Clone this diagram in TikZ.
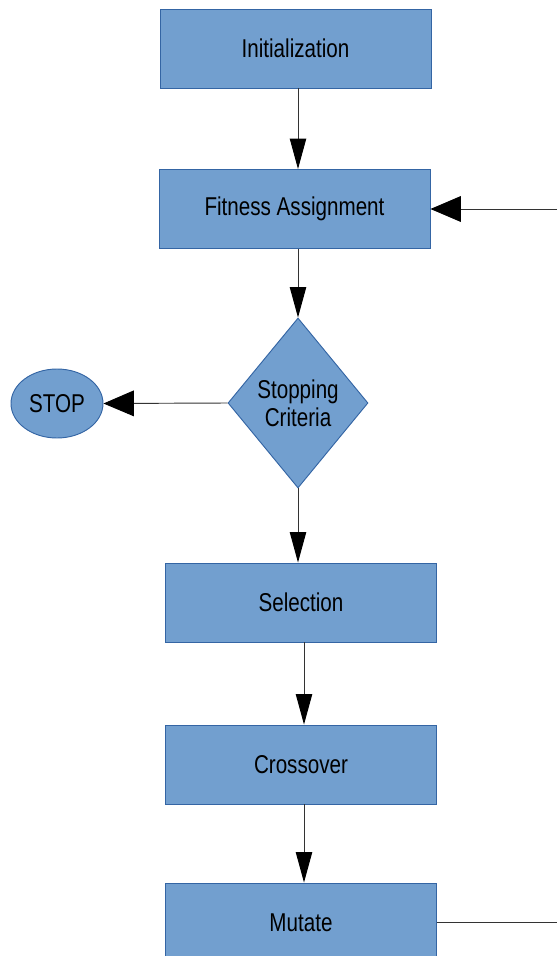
\documentclass[tikz,border=0pt]{standalone}
\usepackage{fontspec}
\setmainfont{Liberation Sans}[FakeStretch=0.8]
\usetikzlibrary{shapes.geometric,arrows.meta}
\definecolor{boxfill}{HTML}{729FCF}
\definecolor{boxline}{HTML}{3465A4}
\tikzset{
 stepbox/.style={rectangle,draw=boxline,fill=boxfill,line width=0.8pt,
   minimum width=271*0.03cm,minimum height=79*0.03cm,inner sep=0pt,
   font=\fontsize{22}{26}\selectfont},
 testbox/.style={diamond,draw=boxline,fill=boxfill,line width=0.8pt,
   minimum width=140*0.03cm,minimum height=170*0.03cm,inner sep=0pt,
   align=center,font=\fontsize{22}{24}\selectfont},
 endbox/.style={ellipse,draw=boxline,fill=boxfill,line width=0.8pt,
   minimum width=92*0.03cm,minimum height=69*0.03cm,inner sep=0pt,
   font=\fontsize{22}{26}\selectfont},
 vline/.style={draw=black!80,line width=0.8pt,-{Triangle[length=26pt,width=14pt,black]}},
 hline/.style={draw=black!80,line width=0.8pt,-{Triangle[length=26pt,width=22pt,black]}},
}
\begin{document}
\begin{tikzpicture}[x=0.03cm,y=-0.03cm]
 \useasboundingbox (0,0) rectangle (557,956);
 % nodes
 \node[stepbox] (init) at (295.5,48.5) {Initialization};
 \node[stepbox] (fit) at (294.5,209) {Fitness Assignment};
 \node[testbox] (crit) at (298,403) {Stopping\\Criteria};
 \node[endbox] (stop) at (57,403.5) {STOP};
 \node[stepbox] (sel) at (301,602.5) {Selection};
 \node[stepbox] (cross) at (301,764.5) {Crossover};
 \node[stepbox] (mut) at (301,922.5) {Mutate};
 \coordinate (loopin) at (557,209);
 \coordinate (loopout) at (557,922.5);
 % connectors
 \draw[vline] (init.south -| crit.north) -- (crit.north |- fit.north);
 \draw[vline] (fit.south -| crit.north) -- (crit.north);
 \draw[hline] (crit.west) -- (stop.east);
 \draw[vline] (crit.south) -- (crit.south |- sel.north);
 \draw[vline] ([xshift=3*0.03cm]sel.south) -- ([xshift=3*0.03cm]cross.north);
 \draw[vline] ([xshift=3*0.03cm]cross.south) -- ([xshift=3*0.03cm]mut.north);
 \draw[draw=black!80,line width=0.8pt] (mut.east) -- (loopout);
 \draw[hline] (loopin) -- (fit.east);
\end{tikzpicture}
\end{document}
